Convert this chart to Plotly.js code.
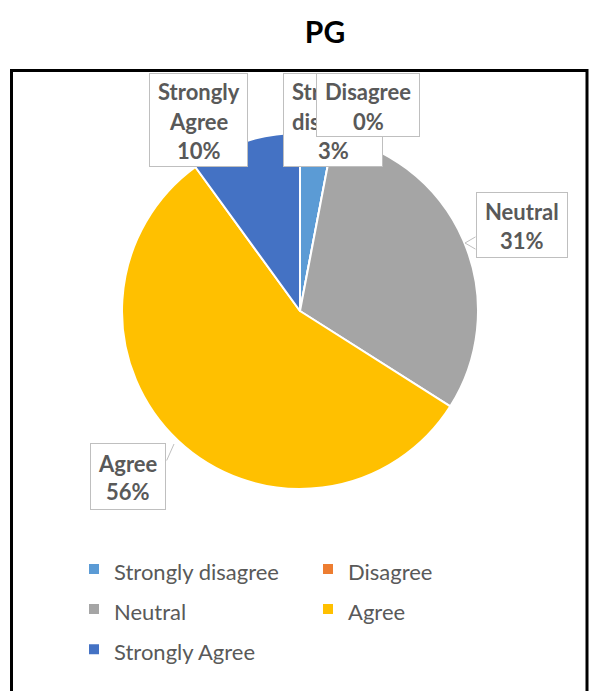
<!DOCTYPE html>
<html><head><meta charset="utf-8">
<script src="https://cdn.plot.ly/plotly-3.0.1.min.js"></script>
<style>html,body{margin:0;padding:0;background:#fff}</style>
</head><body>
<div id="chart" style="width:590px;height:691px"></div>
<script>
const categories = ["Strongly disagree", "Disagree", "Neutral", "Agree", "Strongly Agree"];
const percents = [3, 0, 31, 56, 10];
const colors = ["#5B9BD5", "#ED7D31", "#A5A5A5", "#FFC000", "#4472C4"];
const chartTitle = "PG";

const W = 590, H = 691;
const px = x => x / W;
const py = y => 1 - y / H;

// callout box geometry (pixels): [left, top, right, bottom, firstLineY]
const boxes = {
  "Strongly Agree":   [149, 73, 248, 167, 92],
  "Strongly disagree":[283, 73, 383, 167, 92],
  "Disagree":         [316, 73, 420, 137, 92],
  "Neutral":          [476, 192, 568, 258, 211],
  "Agree":            [90, 443, 166, 510, 463]
};
const order = ["Strongly Agree", "Strongly disagree", "Disagree", "Neutral", "Agree"];
const lineGap = 29;
const labelFont = {family: "Lato, 'Open Sans', sans-serif", size: 22, color: "#595959", weight: 700};

const annotations = [];
// pointers
annotations.push({xref:'paper', yref:'paper', x:px(465), y:py(243), ax:px(477), ay:py(236), axref:'paper', ayref:'paper',
  showarrow:true, arrowhead:0, arrowwidth:1, arrowcolor:'#BFBFBF', text:''});
annotations.push({xref:'paper', yref:'paper', x:px(465), y:py(243), ax:px(477), ay:py(250), axref:'paper', ayref:'paper',
  showarrow:true, arrowhead:0, arrowwidth:1, arrowcolor:'#BFBFBF', text:''});
annotations.push({xref:'paper', yref:'paper', x:px(174), y:py(444), ax:px(166), ay:py(462), axref:'paper', ayref:'paper',
  showarrow:true, arrowhead:0, arrowwidth:1, arrowcolor:'#BFBFBF', text:''});

order.forEach(name => {
  const i = categories.indexOf(name);
  const b = boxes[name];
  annotations.push({
    xref:'paper', yref:'paper', x:px((b[0]+b[2])/2), y:py((b[1]+b[3])/2),
    xanchor:'center', yanchor:'middle', showarrow:false, text:' ',
    width:b[2]-b[0]-2, height:b[3]-b[1]-2, borderpad:0,
    bgcolor:'#FFFFFF', bordercolor:'#BFBFBF', borderwidth:1
  });
  const lines = (name === "Disagree" ? [name] : name.split(' ')).concat([percents[i] + '%']);
  lines.forEach((ln, k) => {
    annotations.push({
      xref:'paper', yref:'paper', x:px((b[0]+b[2])/2), y:py(b[4] + k*lineGap),
      xanchor:'center', yanchor:'middle', showarrow:false, text:ln, font:labelFont
    });
  });
});

const legendLabels = categories.map(c => '<span style="font-size:22px">' + c + '</span>');

const data = [{
  type:'pie', labels:legendLabels, values:percents, sort:false, direction:'clockwise', rotation:0,
  marker:{colors:colors, line:{color:'#FFFFFF', width:2}},
  textinfo:'none', hoverinfo:'percent',
  domain:{x:[px(122), px(478)], y:[py(489), py(133)]}
}];

const layout = {
  width:W, height:H, margin:{l:0,r:0,t:0,b:0},
  paper_bgcolor:'#FFFFFF',
  title:{text:'<b>' + chartTitle + '</b>', x:px(325), xanchor:'center', y:py(32), yanchor:'middle',
    font:{family:"Lato, 'Open Sans', sans-serif", size:30, color:'#000000'}},
  showlegend:true,
  legend:{orientation:'h', x:px(74), xanchor:'left', y:py(544), yanchor:'top',
    entrywidth:189, entrywidthmode:'pixels', traceorder:'normal',
    font:{family:"Lato, 'Open Sans', sans-serif", size:28.5, color:'#595959'}},
  shapes:[{type:'rect', xref:'paper', yref:'paper', x0:px(11.5), x1:px(587), y0:-0.05, y1:py(70.5),
    line:{color:'#000000', width:3}, fillcolor:'rgba(0,0,0,0)', layer:'below'}],
  annotations:annotations
};

Plotly.newPlot('chart', data, layout, {displayModeBar:false, staticPlot:true});
</script>
</body></html>
